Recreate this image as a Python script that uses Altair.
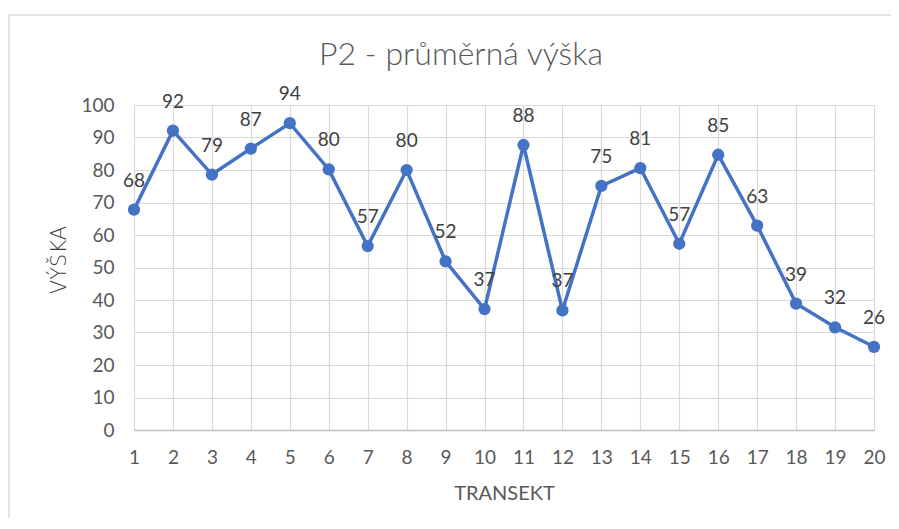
import altair as alt
import pandas as pd

transekt = list(range(1, 21))
vyska = [67.8, 92.1, 78.6, 86.6, 94.4, 80.2, 56.6, 80.0, 51.9, 37.2,
         87.7, 36.8, 75.1, 80.6, 57.3, 84.7, 62.9, 38.9, 31.6, 25.6]
y_ticks = list(range(0, 101, 10))
title_text = "P2 - průměrná výška"
y_title = "VÝŠKA"
x_title = "TRANSEKT"

df = pd.DataFrame({"t": transekt, "v": vyska})

FONT = "Lato"
BLUE = "#4472C4"
GRAY = "#595959"
FS = 19

x_enc = alt.X("t:Q",
              scale=alt.Scale(domain=[1, 20], nice=False, zero=False),
              axis=alt.Axis(values=transekt, format="d", title=x_title,
                            grid=True, gridColor="#d9d9d9", gridWidth=1.2,
                            domainColor="#bfbfbf", domainWidth=1.5, ticks=False,
                            labelPadding=18, labelFontSize=FS, labelColor=GRAY,
                            labelFont=FONT, labelFlush=False, labelOverlap=False,
                            titleFont=FONT, titleFontSize=20, titleColor=GRAY,
                            titleFontWeight="normal", titleX=370, titleY=63,
                            titleBaseline="middle", titleAlign="center"))
y_enc = alt.Y("v:Q",
              scale=alt.Scale(domain=[0, 100], nice=False),
              axis=alt.Axis(values=y_ticks, title=None,
                            grid=True, gridColor="#d9d9d9", gridWidth=1.2,
                            domain=False, ticks=False, labelOverlap=False,
                            labelPadding=20, labelFontSize=FS, labelColor=GRAY,
                            labelFont=FONT))

base = alt.Chart(df).encode(x=x_enc, y=y_enc)

line = base.mark_line(color=BLUE, strokeWidth=3.5)
pts = base.mark_circle(color=BLUE, size=150, opacity=1)
labels = base.mark_text(dy=-29, fontSize=FS, color="#404040", font=FONT,
                        baseline="middle").encode(text=alt.Text("v:Q", format=".0f"))

single = alt.Chart(df).transform_filter("datum.t == 1")

frame = single.mark_rect(fill="white", fillOpacity=0, stroke="#d9d9d9", strokeWidth=1.5).encode(
    x=alt.value(-125), x2=alt.value(790), y=alt.value(-90), y2=alt.value(440))

title = single.mark_text(fontSize=32, color=GRAY, font=FONT, baseline="alphabetic",
                         align="center", fontWeight=300).encode(
    x=alt.value(327), y=alt.value(-40), text=alt.value(title_text))

ytitle = single.mark_text(fontSize=21, color="#404040", font="DejaVu Sans", baseline="middle",
                          align="center", angle=270, fontWeight=300).encode(
    x=alt.value(-74), y=alt.value(155), text=alt.value(y_title))

chart = alt.layer(line, frame, pts, labels, title, ytitle).properties(
    width=740, height=325,
    autosize=alt.AutoSizeParams(type="none"),
    padding={"left": 126, "top": 97, "right": 17, "bottom": 88},
).configure_view(stroke=None)

chart.save("out.html", embed_options={"renderer": "svg", "actions": False})
